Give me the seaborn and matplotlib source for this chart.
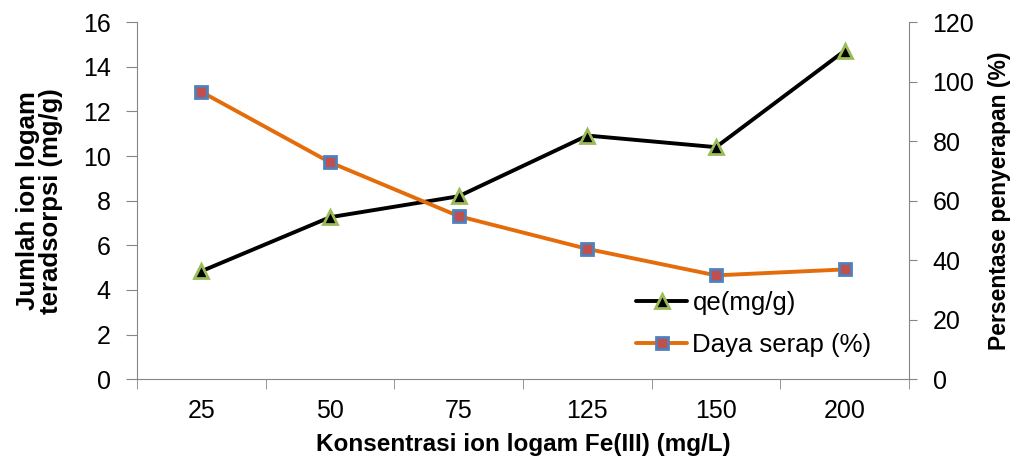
import matplotlib
matplotlib.use("Agg")
import matplotlib.pyplot as plt
import seaborn as sns
import numpy as np

# ── Data ──────────────────────────────────────────────────────────────────────
konsentrasi = ["25", "50", "75", "125", "150", "200"]
qe = [4.84, 7.26, 8.2, 10.92, 10.4, 14.72]
daya_serap = [96.6, 72.9, 54.8, 43.8, 34.9, 36.9]

sns.set_style("white")
plt.rcParams['font.family'] = ['Liberation Sans', 'DejaVu Sans']
plt.rcParams['text.color'] = 'black'
plt.rcParams['axes.labelcolor'] = 'black'
plt.rcParams['xtick.color'] = 'black'
plt.rcParams['ytick.color'] = 'black'

fig = plt.figure(figsize=(10.19, 4.63), dpi=100)
ax = fig.add_axes([0.1345, 0.181, 0.7575, 0.771])
ax2 = ax.twinx()

x = np.arange(len(konsentrasi))

sns.lineplot(x=x, y=qe, ax=ax, color='black', lw=2.8, marker='^', markersize=10,
             markerfacecolor='black', markeredgecolor='#9BBB59', markeredgewidth=2,
             label='qe(mg/g)', legend=False)
sns.lineplot(x=x, y=daya_serap, ax=ax2, color='#E46C0A', lw=2.8, marker='s', markersize=8.5,
             markerfacecolor='#C0504D', markeredgecolor='#4F81BD', markeredgewidth=2,
             label='Daya serap (%)', legend=False)

ax.set_xlim(-0.5, len(konsentrasi) - 0.5)
ax.set_ylim(0, 16)
ax2.set_ylim(0, 120)
ax.set_yticks(range(0, 17, 2))
ax2.set_yticks(range(0, 121, 20))
ax.set_xticks(x)
ax.set_xticklabels(konsentrasi)
ax.set_xticks(np.arange(-0.5, len(konsentrasi)), minor=True)

for a in (ax, ax2):
    for s in a.spines.values():
        s.set_visible(False)
    a.grid(False)

gray = '#868686'
ax.spines['left'].set_visible(True)
ax.spines['bottom'].set_visible(True)
ax2.spines['right'].set_visible(True)
ax.spines['left'].set_color(gray)
ax.spines['bottom'].set_color(gray)
ax2.spines['right'].set_color(gray)

ax.tick_params(axis='y', which='major', left=True, direction='out', length=8, color=gray,
               labelsize=18, pad=11, labelcolor='black')
ax.tick_params(axis='x', which='major', bottom=False, labelsize=18, pad=11, labelcolor='black')
ax.tick_params(axis='x', which='minor', bottom=True, direction='out', length=7, color=gray)
ax2.tick_params(axis='y', right=True, direction='out', length=6, color=gray,
                labelsize=18, pad=11, labelcolor='black')

ax.set_xlabel('Konsentrasi ion logam Fe(III) (mg/L)', fontsize=17.5, fontweight='bold', labelpad=7)
ax.set_ylabel('Jumlah ion logam\nteradsorpsi (mg/g)', fontsize=18.5, fontweight='bold',
              labelpad=14, linespacing=0.95)
ax2.set_ylabel('Persentase penyerapan (%)', fontsize=16.5, fontweight='bold', labelpad=10)

h1, l1 = ax.get_legend_handles_labels()
h2, l2 = ax2.get_legend_handles_labels()
ax2.legend(h1 + h2, l1 + l2, loc='upper left', bbox_to_anchor=(0.624, 0.372),
           bbox_transform=fig.transFigure, frameon=False, fontsize=18.5,
           handlelength=2.0, handletextpad=0.2, labelspacing=0.72,
           borderaxespad=0, borderpad=0)

fig.savefig('out.png', dpi=100)
plt.close()
